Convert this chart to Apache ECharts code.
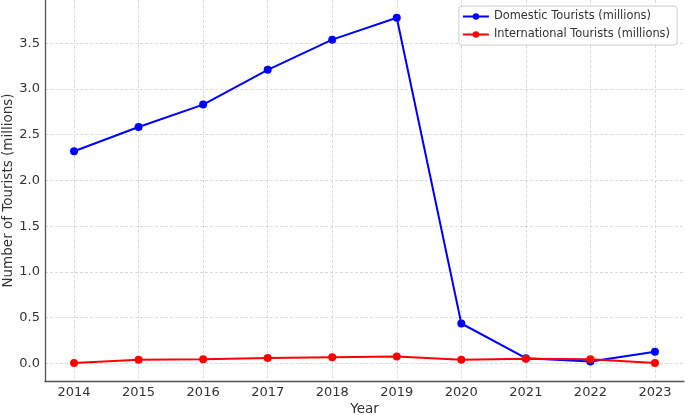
<!DOCTYPE html>
<html><head><meta charset="utf-8">
<script src="https://cdn.jsdelivr.net/npm/echarts@6/dist/echarts.min.js"></script>
<style>html,body{margin:0;padding:0;background:#fff}#c{width:685px;height:415px}</style>
</head><body><div id="c"></div>
<script>
const years = [2014, 2015, 2016, 2017, 2018, 2019, 2020, 2021, 2022, 2023];
const domestic = [2.32, 2.585, 2.83, 3.21, 3.54, 3.78, 0.435, 0.055, 0.02, 0.125];
const international = [0.003, 0.038, 0.045, 0.057, 0.067, 0.075, 0.038, 0.05, 0.044, 0.003];
const yTicks = [0, 0.5, 1.0, 1.5, 2.0, 2.5, 3.0, 3.5];
const seriesNames = ['Domestic Tourists (millions)', 'International Tourists (millions)'];

const font = 'DejaVu Sans';
const chart = echarts.init(document.getElementById('c'), null, {renderer: 'canvas'});
chart.setOption({
  animation: false,
  backgroundColor: '#ffffff',
  textStyle: {fontFamily: font},
  grid: {left: 45, right: 1, top: 0, bottom: 34, containLabel: false, outerBoundsMode: 'none'},
  legend: {
    right: 8, top: 6, orient: 'vertical', itemGap: 7,
    itemWidth: 26, itemHeight: 8,
    padding: [5, 7, 5, 3],
    borderColor: '#cccccc', borderWidth: 1, borderRadius: 3,
    backgroundColor: 'rgba(255,255,255,0.85)',
    textStyle: {fontFamily: font, fontSize: 11.4, color: '#333'},
    data: seriesNames
  },
  xAxis: {
    type: 'value', min: 2013.55, max: 2023.45,
    name: 'Year', nameLocation: 'middle', nameGap: 21, nameMoveOverlap: false,
    nameTextStyle: {fontFamily: font, fontSize: 13.5, color: '#333'},
    axisLine: {show: true, onZero: false, lineStyle: {color: '#555', width: 1.3}},
    axisTick: {show: false, customValues: years},
    axisLabel: {customValues: years, fontFamily: font, fontSize: 13, color: '#333', margin: 5,
      formatter: v => String(Math.round(v))},
    splitLine: {show: true, lineStyle: {color: '#d0d0d0', type: [3, 2], width: 0.8}}
  },
  yAxis: {
    type: 'value', min: -0.194, max: 3.974,
    name: 'Number of Tourists (millions)', nameLocation: 'middle', nameGap: 30, nameMoveOverlap: false,
    nameTextStyle: {fontFamily: font, fontSize: 13.5, color: '#333'},
    axisLine: {show: true, onZero: false, lineStyle: {color: '#555', width: 1.3}},
    axisTick: {show: false, customValues: yTicks},
    axisLabel: {customValues: yTicks, fontFamily: font, fontSize: 13, color: '#333', margin: 5,
      formatter: v => v.toFixed(1)},
    splitLine: {show: true, lineStyle: {color: '#d0d0d0', type: [3, 2], width: 0.8}}
  },
  series: [
    {
      name: seriesNames[0], type: 'line',
      data: years.map((y, i) => [y, domestic[i]]),
      symbol: 'circle', symbolSize: 8,
      lineStyle: {color: '#0000ff', width: 2},
      itemStyle: {color: '#0000ff'}, z: 3
    },
    {
      name: seriesNames[1], type: 'line',
      data: years.map((y, i) => [y, international[i]]),
      symbol: 'circle', symbolSize: 8,
      lineStyle: {color: '#ff0000', width: 2},
      itemStyle: {color: '#ff0000'}, z: 4
    }
  ]
});
</script></body></html>
